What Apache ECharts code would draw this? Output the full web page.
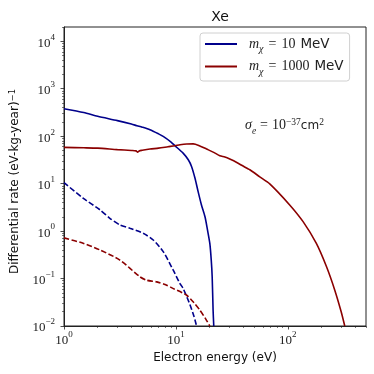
<!DOCTYPE html>
<html><head><meta charset="utf-8">
<script src="https://cdn.jsdelivr.net/npm/echarts@6/dist/echarts.min.js"></script>
<style>html,body{margin:0;padding:0;background:#fff}#c{width:374px;height:374px}</style>
</head><body><div id="c"></div>
<script>
// Data (electron energy in eV, differential rate)
const blueSolid = [[1,380],[1.5,315],[2,262],[3,213],[4,180],[4.5,166],[5,155],[5.86,137],[7,112],[7.7,99],[9,76],[9.8,63],[11.6,44],[12.9,31.8],[13.8,23],[14.8,13.1],[15.8,6.8],[16.9,3.6],[18.2,2.0],[19.1,1.1],[20.1,0.55],[20.7,0.245],[21.1,0.109],[21.5,0.0215],[21.8,0.01]];
const redSolid = [[1,58],[1.5,57],[2,56],[3,52],[4,50],[4.4,49],[4.55,46],[4.7,49],[5,50.5],[5.86,53.6],[7,56],[8.5,60],[9.8,63],[10.9,66],[12.5,68.5],[14.3,69],[16,64],[18.8,53.6],[22,45],[24.7,38.7],[27.4,36.3],[30.3,33],[35,28],[42.8,21.3],[45.8,19.6],[56.2,13.9],[69,9.9],[104,3.56],[137,1.58],[180,0.55],[222,0.177],[263,0.057],[300,0.02],[323,0.01]];
const blueDashed = [[1,10.5],[1.49,4.9],[2.1,2.8],[2.57,1.86],[3.16,1.35],[3.88,1.15],[5.1,0.9],[6.27,0.65],[7.7,0.37],[9.47,0.15],[10.85,0.079],[11.6,0.062],[13.3,0.029],[14.5,0.016],[15.3,0.01]];
const redDashed = [[1,0.72],[1.5,0.55],[2.1,0.40],[3.16,0.245],[4.77,0.109],[5.5,0.092],[6.76,0.085],[8,0.075],[9.4,0.062],[12.4,0.045],[14.5,0.031],[16.4,0.0215],[18.5,0.014],[20.1,0.01]];

const legendLabels = { m10: '10', m1000: '1000' };

const xMajorTicks = [1, 10, 100];
const xMinorTicks = [2,3,4,5,6,7,8,9,20,30,40,50,60,70,80,90,200,300,400,500];
const yMajorTicks = [0.01, 0.1, 1, 10, 100, 1000, 10000];
const yMinorTicks = [0.02,0.03,0.04,0.05,0.06,0.07,0.08,0.09,0.2,0.3,0.4,0.5,0.6,0.7,0.8,0.9,2,3,4,5,6,7,8,9,20,30,40,50,60,70,80,90,200,300,400,500,600,700,800,900,2000,3000,4000,5000,6000,7000,8000,9000,20000];

const xMin = 1, xMax = 500, yMin = 0.01, yMax = 20000;
const BLUE = '#00008b', RED = '#8b0000';

const serif = 'Liberation Serif';
const sans = 'DejaVu Sans';
const labelRich = {
  b: { fontFamily: serif, fontSize: 13, color: '#222', lineHeight: 17, verticalAlign: 'bottom' },
  s: { fontFamily: serif, fontSize: 9, color: '#222', lineHeight: 17, verticalAlign: 'top' }
};
function powLabel(v) {
  const e = Math.round(Math.log10(v));
  return '{b|10}{s|' + (e < 0 ? '\u2212' + (-e) : e) + '}';
}

const chart = echarts.init(document.getElementById('c'), null, { renderer: 'canvas' });

const common = { type: 'log', logBase: 10, splitLine: { show: false } };
const lineCommon = { type: 'line', showSymbol: false, smooth: 0.25, clip: true };
chart.setOption({
  animation: false,
  backgroundColor: '#fff',
  title: {
    text: 'Xe', left: 215, top: 5, textAlign: 'center',
    textStyle: { fontFamily: sans, fontSize: 14, fontWeight: 'normal', color: '#111' }
  },
  grid: { left: 64, right: 8, top: 27, bottom: 48, show: true, borderColor: '#222', borderWidth: 1, backgroundColor: 'transparent' },
  legend: {
    orient: 'vertical', left: 200, top: 33,
    data: ['m10', 'm1000'],
    icon: 'rect', itemWidth: 32, itemHeight: 2, itemGap: 5,
    padding: [4, 6, 4, 5],
    borderColor: '#d0d0d0', borderWidth: 1, borderRadius: 3, backgroundColor: 'rgba(255,255,255,0.8)',
    formatter: function (name) { return '{m|m}{c|\u03c7}{q|=}{n|' + legendLabels[name] + '}{u|MeV}'; },
    textStyle: {
      rich: {
        m: { fontFamily: serif, fontStyle: 'italic', fontSize: 14, color: '#222', padding: [0,0,0,7], lineHeight: 17 },
        c: { fontFamily: serif, fontStyle: 'italic', fontSize: 10, color: '#222', verticalAlign: 'bottom', lineHeight: 17, padding: [0,0,-2,0] },
        q: { fontFamily: serif, fontSize: 14, color: '#222', lineHeight: 17, padding: [0,5,0,5] },
        n: { fontFamily: serif, fontSize: 14, color: '#222', lineHeight: 17, padding: [0,5,0,0] },
        u: { fontFamily: sans, fontSize: 13.5, color: '#222', lineHeight: 17 }
      }
    }
  },
  xAxis: [
    Object.assign({}, common, {
      min: xMin, max: xMax, position: 'bottom',
      name: 'Electron energy (eV)', nameLocation: 'middle', nameGap: 26,
      nameTextStyle: { fontFamily: sans, fontSize: 12, color: '#111' },
      axisLine: { show: true, lineStyle: { color: '#222', width: 1 } },
      axisTick: { show: true, length: 3.5, customValues: xMajorTicks, lineStyle: { color: '#222', width: 0.8 } },
      axisLabel: { customValues: xMajorTicks, formatter: powLabel, rich: labelRich, margin: 4 }
    }),
    Object.assign({}, common, {
      min: xMin, max: xMax, position: 'bottom', gridIndex: 0,
      axisLine: { show: false },
      axisTick: { show: true, length: 2, customValues: xMinorTicks, lineStyle: { color: '#222', width: 0.6 } },
      axisLabel: { show: false }
    })
  ],
  yAxis: [
    Object.assign({}, common, {
      min: yMin, max: yMax, position: 'left',
      name: 'Differential rate (eV-kg-year){s|\u22121}', nameLocation: 'middle', nameGap: 42,
      nameTextStyle: { fontFamily: sans, fontSize: 12, color: '#111',
        rich: { s: { fontFamily: sans, fontSize: 8.5, color: '#111', verticalAlign: 'top', lineHeight: 14, padding: [0, 10, 0, 0] } } },
      axisLine: { show: true, lineStyle: { color: '#222', width: 1 } },
      axisTick: { show: true, length: 3.5, customValues: yMajorTicks, lineStyle: { color: '#222', width: 0.8 } },
      axisLabel: { customValues: yMajorTicks, formatter: powLabel, rich: labelRich, margin: 9 }
    }),
    Object.assign({}, common, {
      min: yMin, max: yMax, position: 'left', gridIndex: 0,
      axisLine: { show: false },
      axisTick: { show: true, length: 2, customValues: yMinorTicks, lineStyle: { color: '#222', width: 0.6 } },
      axisLabel: { show: false }
    })
  ],
  series: [
    Object.assign({ name: 'm10', data: blueSolid, lineStyle: { color: BLUE, width: 1.6 }, itemStyle: { color: BLUE } }, lineCommon),
    Object.assign({ name: 'm1000', data: redSolid, lineStyle: { color: RED, width: 1.6 }, itemStyle: { color: RED } }, lineCommon),
    Object.assign({ name: 'm10d', data: blueDashed, lineStyle: { color: BLUE, width: 1.6, type: [5.5, 2.4] }, itemStyle: { color: BLUE } }, lineCommon),
    Object.assign({ name: 'm1000d', data: redDashed, lineStyle: { color: RED, width: 1.6, type: [5.5, 2.4] }, itemStyle: { color: RED } }, lineCommon)
  ],
  graphic: [{
    type: 'text', left: 245, top: 117,
    style: {
      text: '{g|\u03c3}{i|e}{q|=}{t|10}{p|\u221237}{u|cm}{p|2}',
      rich: {
        g: { fontFamily: serif, fontStyle: 'italic', fontSize: 14, fill: '#222', lineHeight: 17 },
        i: { fontFamily: serif, fontStyle: 'italic', fontSize: 9.5, fill: '#222', verticalAlign: 'bottom', lineHeight: 17, padding: [0,0,-2,0] },
        q: { fontFamily: serif, fontSize: 14, fill: '#222', lineHeight: 17, padding: [0,4,0,4] },
        t: { fontFamily: serif, fontSize: 14, fill: '#222', lineHeight: 17 },
        p: { fontFamily: serif, fontSize: 9.5, fill: '#222', verticalAlign: 'top', lineHeight: 17 },
        u: { fontFamily: sans, fontSize: 12, fill: '#222', lineHeight: 17 }
      }
    }
  }]
});
</script></body></html>
